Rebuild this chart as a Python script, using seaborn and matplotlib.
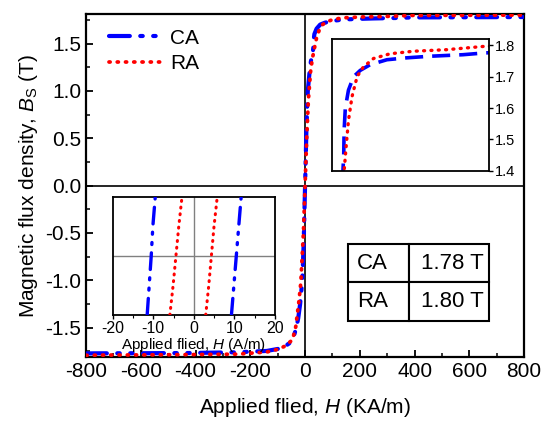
import numpy as np
import pandas as pd
import matplotlib
matplotlib.use("Agg")
import matplotlib.pyplot as plt
import seaborn as sns
from matplotlib.ticker import AutoMinorLocator, MultipleLocator

# ---------------- data ----------------
# main loop (KA/m, T)
H_CA = [-800, -760, -600, -430, -249, -140, -100, -75, -55, -42, -32, -25, -18, -10, -5, 0,
        5, 10, 18, 25, 28, 30, 31, 34, 42, 55, 72, 97, 140, 190, 248, 334, 392, 500, 600, 700, 800]
B_CA = [-1.772, -1.771, -1.770, -1.768, -1.760, -1.746, -1.725, -1.70, -1.66, -1.60, -1.50, -1.40, -1.25, -1.00, -0.60, 0.0,
        0.60, 1.00, 1.25, 1.38, 1.40, 1.455, 1.53, 1.60, 1.657, 1.70, 1.72, 1.738, 1.754, 1.76, 1.765, 1.77, 1.776, 1.777, 1.778, 1.779, 1.78]

H_RA = [-800, -760, -600, -431, -249, -140, -113, -92, -77, -46, -34, -22, -15.7, -6, 0,
        6, 12, 20, 27, 31, 36, 42, 51, 64, 80, 106, 148, 207, 292, 392, 500, 600, 700, 800]
B_RA = [-1.792, -1.79, -1.788, -1.785, -1.78, -1.757, -1.74, -1.72, -1.70, -1.63, -1.49, -1.21, -1.03, -0.50, 0.0,
        0.50, 0.90, 1.20, 1.35, 1.40, 1.476, 1.56, 1.636, 1.70, 1.731, 1.758, 1.773, 1.781, 1.786, 1.797, 1.798, 1.799, 1.80, 1.80]

# low-field inset (A/m)
B_low = [-0.5, -0.25, 0.0, 0.25, 0.5]
H_CA_left = [-11.5, -11.0, -10.5, -10.1, -9.5]
H_CA_right = [9.3, 9.9, 10.5, 11.1, 11.7]
H_RA_left = [-5.9, -5.1, -4.4, -3.7, -2.9]
H_RA_right = [2.95, 3.7, 4.35, 5.0, 5.8]

table_rows = [["CA", "1.78 T"], ["RA", "1.80 T"]]

# ---------------- style ----------------
sns.set_style("ticks")
plt.rcParams['font.family'] = ['Liberation Sans', 'DejaVu Sans']
plt.rcParams['mathtext.fontset'] = 'custom'
plt.rcParams['mathtext.rm'] = 'Liberation Sans'
plt.rcParams['mathtext.it'] = 'Liberation Sans:italic'
plt.rcParams['axes.unicode_minus'] = False
for k in ['text.color', 'axes.labelcolor', 'xtick.color', 'ytick.color', 'axes.edgecolor']:
    plt.rcParams[k] = 'black'

BLUE = '#0000ff'
RED = '#ff0000'
ls_ca = (0, (5, 2.5, 0.6, 2.5, 0.6, 2.5))
ls_ra = (0, (0.3, 1.9))

fig = plt.figure(figsize=(5.42, 4.24), dpi=100)
ax = fig.add_axes([0.1587, 0.158, 0.8083, 0.8085])

df_ca = pd.DataFrame({"H": H_CA, "B": B_CA})
df_ra = pd.DataFrame({"H": H_RA, "B": B_RA})

sns.lineplot(data=df_ca, x="H", y="B", ax=ax, color=BLUE, lw=3, linestyle=ls_ca,
             dash_capstyle='round', sort=False, estimator=None, label="CA", zorder=3)
sns.lineplot(data=df_ra, x="H", y="B", ax=ax, color=RED, lw=2.7, linestyle=ls_ra,
             dash_capstyle='round', sort=False, estimator=None, label="RA", zorder=4)

ax.axhline(0, color='black', lw=1.2, zorder=1)
ax.axvline(0, color='black', lw=1.2, zorder=1)

ax.set_xlim(-800, 800)
ax.set_ylim(-1.81, 1.81)
ax.xaxis.set_major_locator(MultipleLocator(200))
ax.xaxis.set_minor_locator(MultipleLocator(100))
ax.yaxis.set_major_locator(MultipleLocator(0.5))
ax.yaxis.set_minor_locator(MultipleLocator(0.25))
ax.tick_params(which='both', direction='in', top=False, right=False, labelsize=15)
ax.tick_params(which='major', length=5, width=1.3)
ax.tick_params(which='minor', length=3, width=1.1)
for s in ax.spines.values():
    s.set_linewidth(1.6)
    s.set_visible(True)
ax.set_xlabel("Applied flied, $H$ (KA/m)", fontsize=15, labelpad=11)
ax.set_ylabel("Magnetic flux density, $B_\\mathrm{S}$ (T)", fontsize=15, labelpad=4)

leg = ax.legend(loc='upper left', frameon=False, fontsize=15, handlelength=2.6,
                handletextpad=0.3, borderaxespad=0.3, labelspacing=0.3,
                bbox_to_anchor=(0.02, 1.0))

# table
tbl = ax.table(cellText=table_rows, bbox=[0.5975, 0.105, 0.3225, 0.2255],
               colWidths=[0.434, 0.566], zorder=5)
tbl.auto_set_font_size(False)
tbl.set_fontsize(16)
for (r, c), cell in tbl.get_celld().items():
    cell.set_linewidth(1.5)
    cell.set_edgecolor('black')
    cell.set_facecolor('white')
    cell.get_text().set_ha('left' if c == 0 else 'right')
    cell.PAD = 0.15 if c == 0 else 0.07

# inset 1: saturation
ax1 = fig.add_axes([0.6125, 0.597, 0.2895, 0.311])
sns.lineplot(data=df_ca, x="H", y="B", ax=ax1, color=BLUE, lw=2.6, linestyle=(0, (5, 2.5)),
             sort=False, estimator=None, legend=False)
sns.lineplot(data=df_ra, x="H", y="B", ax=ax1, color=RED, lw=2.4, linestyle=ls_ra,
             dash_capstyle='round', sort=False, estimator=None, legend=False)
ax1.set_xlim(0, 400)
ax1.set_ylim(1.4, 1.82)
ax1.set_xticks([])
ax1.yaxis.set_major_locator(MultipleLocator(0.1))
ax1.yaxis.tick_right()
ax1.tick_params(axis='y', which='both', direction='out', labelsize=10.5, length=3, width=1, pad=1)
ax1.set_xlabel("")
ax1.set_ylabel("")
for s in ax1.spines.values():
    s.set_linewidth(1.3)
    s.set_visible(True)

# inset 2: low field
ax2 = fig.add_axes([0.208, 0.257, 0.299, 0.279])
ax2.axhline(0, color='#808080', lw=1, zorder=1)
ax2.axvline(0, color='#808080', lw=1, zorder=1)
for hx, col, lsx, lw_ in [(H_CA_left, BLUE, ls_ca, 2.4), (H_CA_right, BLUE, ls_ca, 2.4),
                          (H_RA_left, RED, ls_ra, 2.2), (H_RA_right, RED, ls_ra, 2.2)]:
    sns.lineplot(x=hx, y=B_low, ax=ax2, color=col, lw=lw_, linestyle=lsx, dash_capstyle='round',
                 sort=False, estimator=None, legend=False, zorder=3)
ax2.set_xlim(-20, 20)
ax2.set_ylim(-0.5, 0.5)
ax2.set_yticks([])
ax2.xaxis.set_major_locator(MultipleLocator(10))
ax2.xaxis.set_minor_locator(MultipleLocator(5))
ax2.tick_params(axis='x', which='both', direction='out', labelsize=11.5, pad=1)
ax2.tick_params(axis='x', which='major', length=3, width=1)
ax2.tick_params(axis='x', which='minor', length=2, width=0.8)
ax2.set_xlabel("Applied flied, $H$ (A/m)", fontsize=11, labelpad=0)
ax2.set_ylabel("")
for s in ax2.spines.values():
    s.set_linewidth(1.3)
    s.set_visible(True)

fig.savefig("out.png", dpi=100)
